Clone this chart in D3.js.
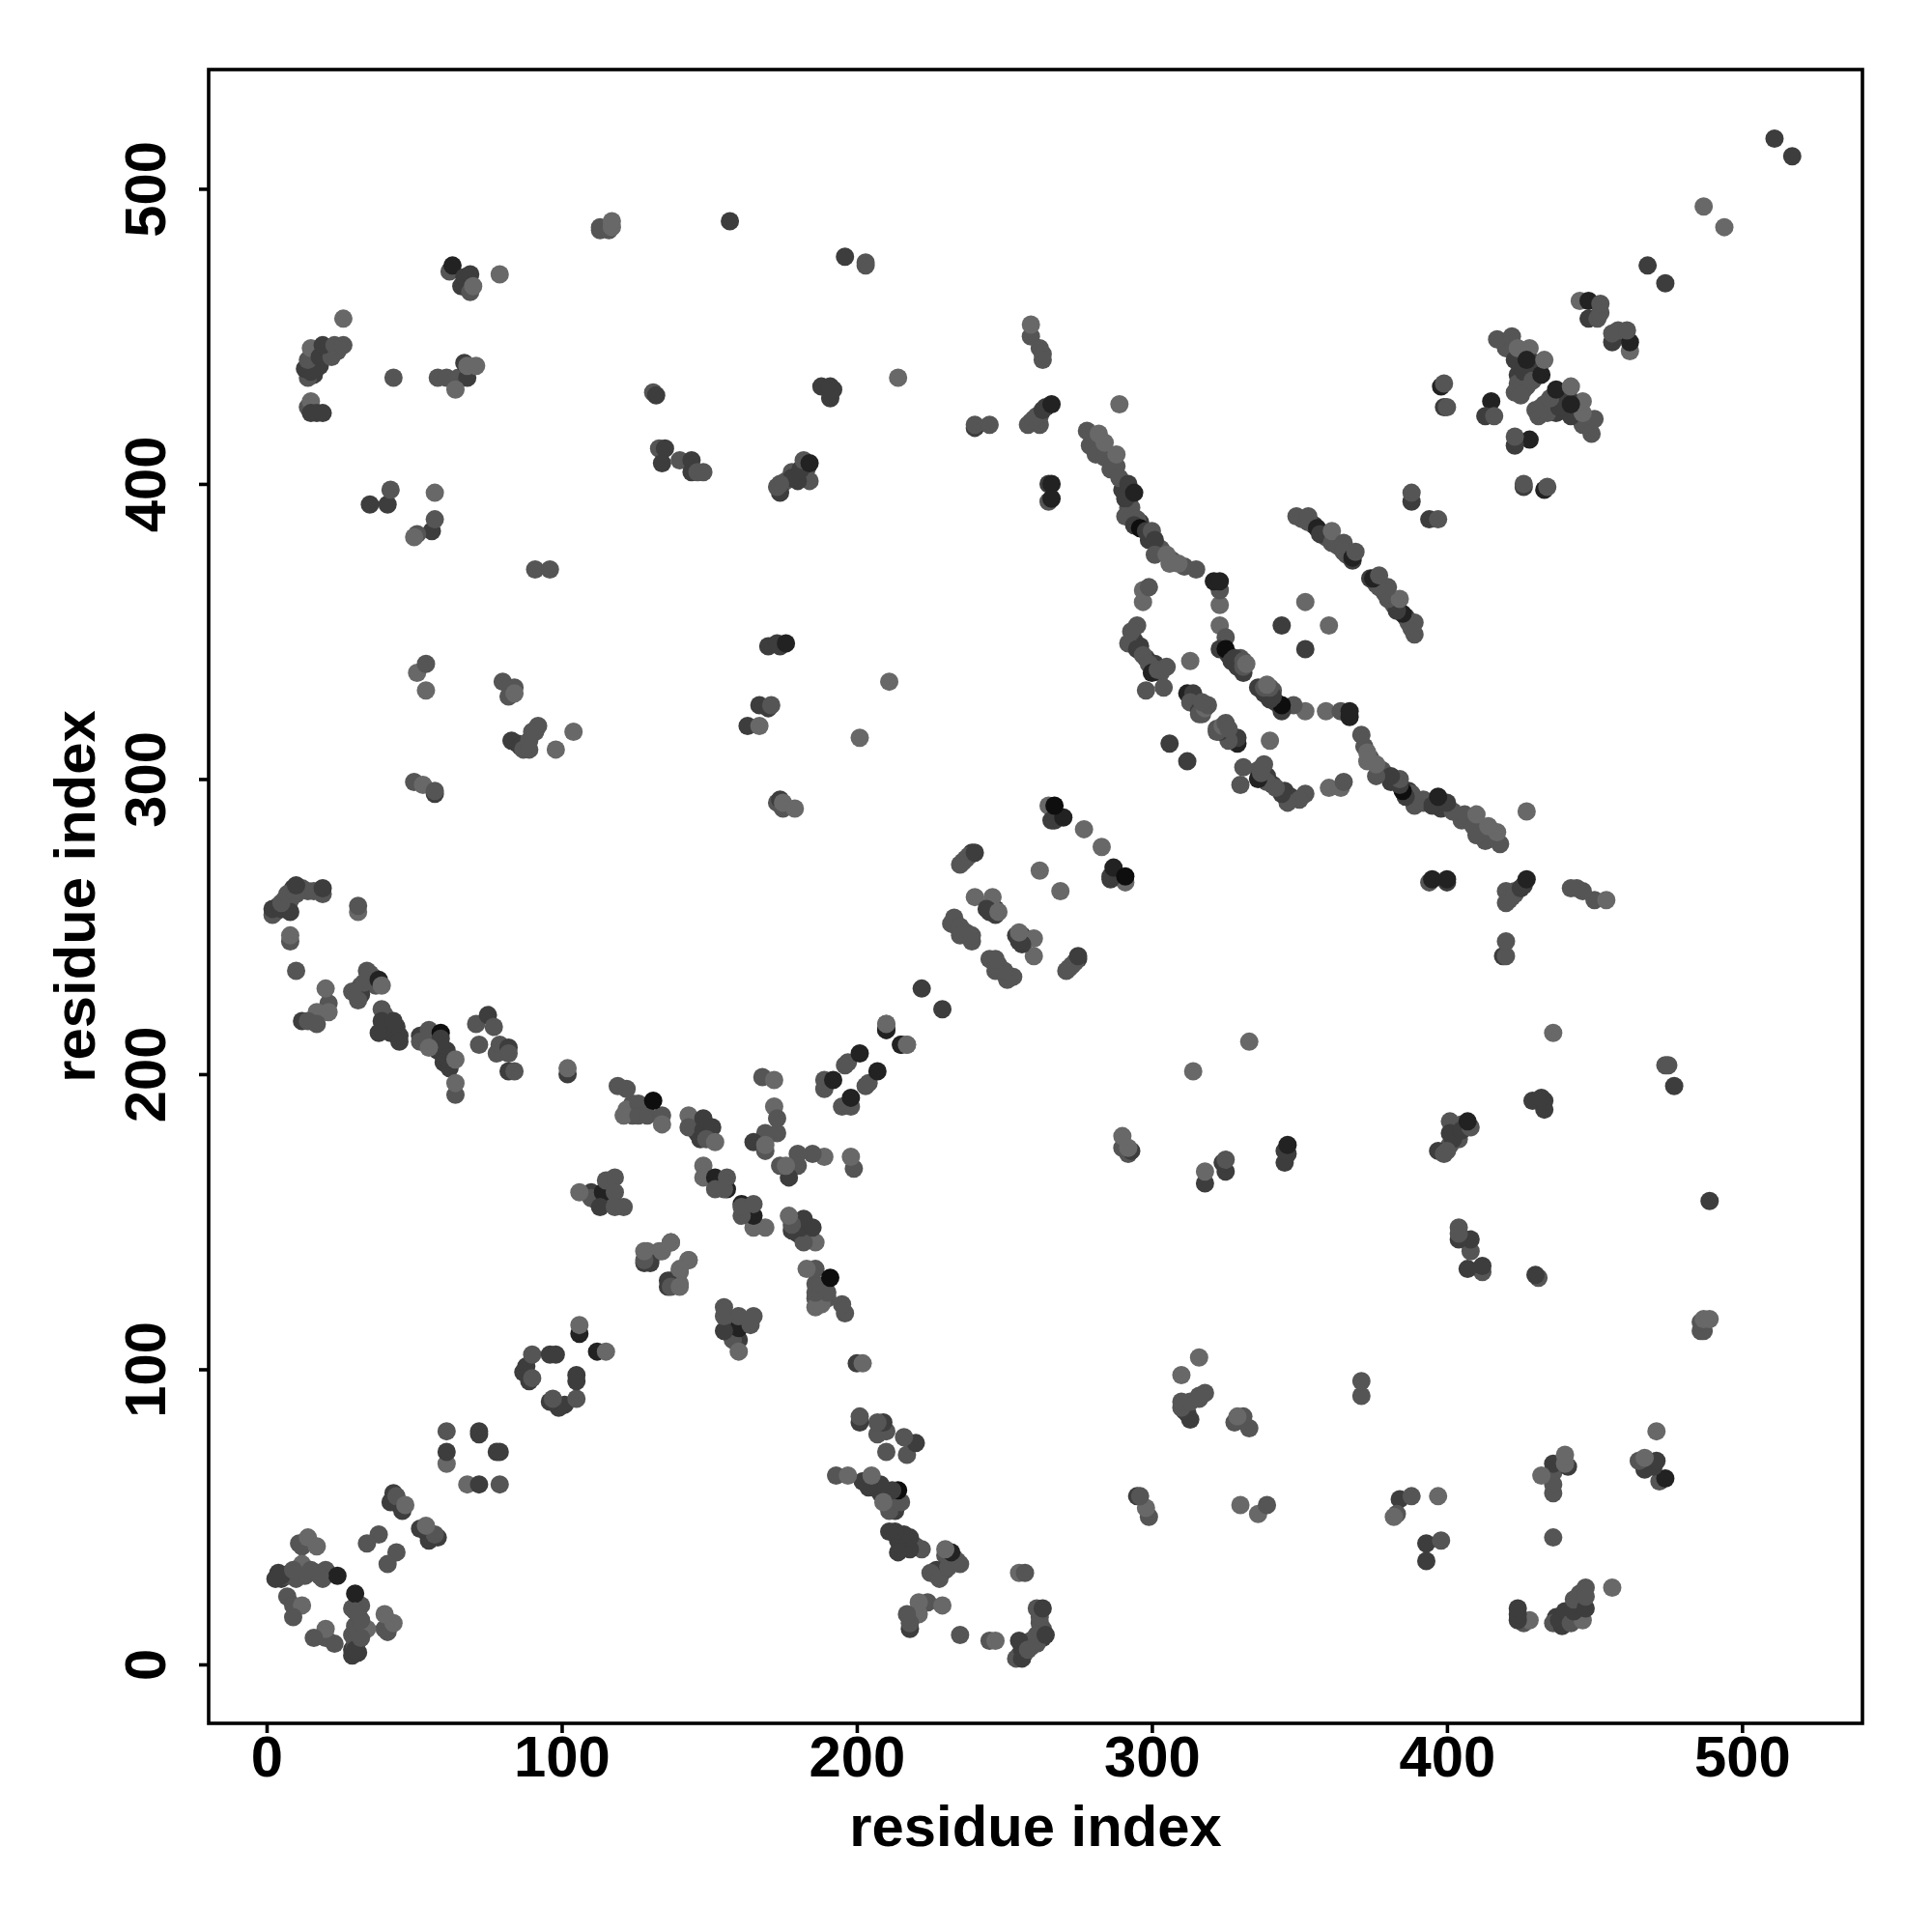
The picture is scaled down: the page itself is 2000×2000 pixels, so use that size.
<!DOCTYPE html>
<html>
<head>
<meta charset="utf-8">
<script src="https://cdn.jsdelivr.net/npm/d3@7/dist/d3.min.js"></script>
<style>
html,body{margin:0;padding:0;background:#fff}
svg{display:block}
text{font-family:"Liberation Sans",Arial,sans-serif;font-weight:bold;fill:#000}
</style>
</head>
<body>
<svg id="chart" width="2000" height="2000"></svg>
<script>
// Contact map: each pair is drawn at (i,j) and at (j,i)
const tickValues = [0,100,200,300,400,500];
const axisTitle = "residue index";
const grayLevels = [14,34,61,85,104];

const residueI = [
280,283,286,288,290,292,293,296,299,303,307,311,
294,296,298,301,303,313,315,317,326,329,330,
16,20,24,17,16,3,4,6,8,9,12,14,
32,36,37,32,41,42,40,54,56,58,60,
420,424,427,424,428,424,427,430,176,178,180,183,
145,146,150,153,155,112,115,124,124,234,237,245,247,
237,239,43,45,7,9,12,13,17,351,355,359,363,366,
259,262,264,85,88,91,
113,113,116,117,117,
62,63,66,67,69,69,70,79,26,
14,13,15,18,14,15,18,22,19,23,26,
14,15,15,17,19,43,
58,61,65,68,64,67,68,71,
131,132,133,135,134,140,144,144,146,148,
41,42,35,57,56,51,50,57,
157,196,203,203,259,259,262,263,263,214,
188,191,191,192,240,240,245,
258,262,260,261,263,266,289,
278,279,281,284,282,284,288,
291,289,292,294,291,295,294,296,298,300,301,301,305,306,309,315,
265,266,265,266,
184,180,178,174,173,174,181,182,184,
468,487,511,
445,448,448,451,452,452,
417,422,423,426,426,423,425,424,428,429,430,427,432,433,
398,399,399,400,415,413,416,388,388,
349,353,353,356,357,361,361,365,365,368,368,369,
323,323,321,323,344,352,
297,297,299,
295,293,292,295,297,299,300,302,305,
298,304,313,312,314,313,316,316,318,319,317,306,
323,325,323,325,327,328,331,331,331,332,
91,96,51,54,54,80,82,84,84,
83,86,87,89,89,90,92,104,98,
50,53,57,57,
2,2,5,8,5,7,10,10,16,19,19,
31,31,8,8,10,
21,20,17,21,12,14,17,
30,31,29,33,34,35,38,39,
39,39,38,43,44,45,45,
52,52,55,59,59,61,60,62,55,64,
64,64,71,75,77,72,78,79,82,82,82,84,
102,102,119,122,122,121,126,126,129,134,134,131,
143,143,147,148,148,151,149,152,148,148,
152,156,152,155,156,
110,110,106,114,115,118,113,118,118,121,
128,130,129,133,137,136,137,140,143,140,
106,106,88,87,89,90,90,96,98,
61,72,72,61,61,
42,43,44,46,47,38,34,
11,12,14,17,12,8,4,5,6,10,15,20,19,24,
7,9,12,9,3,5,18,9,
170,173,174,176,167,170,171,163,167,
211,201,173,174,175,175,179,
265,266,267,270,267,277,262,
235,236,238,240,240,246,244,245,247,248,
233,232,235,235,239,239,222,210,210,
215,217,196,197,201,189,189,192,168,172,
172,173,173,169,165,169,169
];

const residueJ = [
416,412,405,406,398,392,392,387,381,378,374,372,
347,345,341,339,336,328,326,322,342,338,341,
441,445,445,444,437,255,257,259,259,263,263,262,
230,233,230,227,216,214,220,212,211,208,206,
446,443,440,437,437,434,433,438,401,404,403,405,
183,180,180,163,163,157,157,190,186,250,248,257,256,
273,275,56,54,30,30,32,30,31,388,386,382,379,376,
421,423,426,312,312,316,
486,487,486,487,489,
472,474,467,470,471,465,467,471,456,
436,439,438,440,442,446,443,443,447,447,447,
426,428,424,424,424,436,
436,436,436,436,432,441,440,440,
431,430,412,412,407,408,408,404,404,404,
393,398,393,397,384,383,382,388,
489,477,474,475,450,454,446,444,442,436,
433,429,433,432,419,420,420,
420,420,422,423,425,427,427,
418,413,410,409,417,414,410,
395,402,400,397,389,388,386,385,384,384,381,376,376,373,373,371,
400,400,394,395,
401,401,402,397,399,400,405,408,407,
474,494,517,
462,462,456,456,458,461,
449,450,442,438,432,431,430,446,446,435,441,442,437,442,
433,434,426,426,428,423,423,394,397,
389,387,389,385,383,380,384,380,377,374,375,377,
359,364,367,367,352,360,
360,364,365,
352,350,346,344,342,339,336,337,338,
330,331,340,329,329,326,323,322,324,325,326,312,
352,348,344,344,340,341,340,336,338,339,
371,371,336,339,330,333,328,331,329,
313,311,310,310,313,316,318,316,310,
299,298,295,296,
254,256,256,255,258,261,261,264,262,261,263,
255,257,245,247,235,
224,229,221,221,218,218,217,
228,225,228,231,235,234,232,230,
222,218,214,218,216,213,211,
213,211,215,214,212,208,204,202,209,205,
193,197,217,220,216,210,207,210,209,207,201,201,
200,202,196,195,188,186,190,186,186,186,183,191,
186,182,178,181,185,182,178,177,169,165,
165,161,161,161,165,
160,158,160,160,164,165,155,160,155,155,
136,137,140,140,143,130,128,128,137,134,
112,115,101,99,96,97,105,105,105,
79,78,79,68,72,
55,58,57,52,54,44,41,
41,40,43,40,34,31,31,29,30,29,32,32,29,30,
23,20,20,16,29,30,30,32,
345,346,345,346,325,324,325,318,318,
333,314,292,293,290,292,290,
291,286,286,287,291,283,269,
271,272,274,275,260,260,256,255,254,255,
253,251,250,247,245,247,229,215,217,
210,210,203,204,207,195,198,198,199,198,
189,185,180,180,177,174,176
];

const shadeIndex = [
3,3,3,3,2,3,3,2,2,3,3,3,
2,2,2,2,3,2,3,3,2,2,3,
2,3,3,2,2,3,3,3,3,2,3,3,
3,3,3,2,2,2,3,3,3,2,2,
3,3,2,2,2,3,3,2,3,3,2,3,
3,2,2,2,3,3,3,3,3,3,3,3,2,
3,2,3,3,3,3,3,3,3,3,2,3,3,3,
3,3,2,2,3,3,
3,3,3,4,4,
3,1,2,2,2,3,4,4,4,
3,2,2,2,3,4,2,3,2,3,3,
3,4,2,2,2,3,
3,3,3,2,4,2,4,4,
3,2,3,2,2,3,2,2,3,3,
2,3,2,4,2,3,4,3,
2,2,3,3,3,4,3,3,3,4,
2,2,2,2,2,3,3,
3,3,3,3,2,1,4,
3,3,3,3,4,4,4,
2,3,2,1,3,3,2,0,2,3,2,3,4,4,4,3,
2,1,3,1,
3,2,2,2,3,3,2,3,1,
2,4,2,
4,1,2,3,3,3,
3,3,2,2,3,3,3,4,4,3,2,1,1,4,
1,3,2,3,1,2,3,2,3,
3,3,3,1,2,3,4,3,3,2,1,3,
4,3,1,1,2,4,
4,4,3,
3,3,3,2,3,3,1,3,3,
3,3,4,1,2,3,2,3,4,3,3,2,
4,3,2,0,2,2,3,2,3,4,
3,3,4,3,4,3,3,3,4,
2,2,3,3,3,3,3,4,4,
3,4,2,3,
3,2,2,2,3,3,3,2,3,3,2,
4,3,3,4,3,
3,4,4,4,2,3,3,
2,3,3,3,3,3,1,4,
3,2,2,2,2,2,2,
2,3,3,0,2,2,2,2,4,4,
3,4,3,2,3,3,3,3,2,3,2,3,
2,4,3,3,4,4,3,3,3,3,4,0,
4,3,2,2,2,2,3,4,4,4,
1,1,3,3,3,
2,3,4,1,3,3,2,3,3,3,
2,2,4,4,3,2,3,4,4,4,
1,4,2,2,2,3,3,2,2,
3,2,2,4,2,
2,2,3,2,4,3,3,
3,3,4,4,4,3,2,2,3,3,3,3,3,1,
3,3,4,3,2,2,3,3,
2,2,2,1,2,2,3,2,4,
4,4,3,2,3,4,4,
4,2,2,1,0,4,4,
3,3,3,2,4,4,2,2,2,4,
3,3,3,3,3,3,2,2,4,
1,4,3,3,1,3,3,1,3,4,
4,3,3,3,2,3,4
];

const svg = d3.select("#chart");
const panel = {left:216, right:1928, top:72, bottom:1784};
const x = d3.scaleLinear().domain([-19.64,540.8]).range([panel.left,panel.right]);
const y = d3.scaleLinear().domain([-19.97,540.4]).range([panel.bottom,panel.top]);
const radius = 9.5;

const points = residueI.flatMap((a,k) => {
  const v = grayLevels[shadeIndex[k]];
  const c = `rgb(${v},${v},${v})`;
  return [{a:a,b:residueJ[k],c:c},{a:residueJ[k],b:a,c:c}];
});

svg.append("rect").attr("width",2000).attr("height",2000).attr("fill","#fff");

svg.append("g").selectAll("circle").data(points).join("circle")
  .attr("cx",d=>x(d.a)).attr("cy",d=>y(d.b)).attr("r",radius).attr("fill",d=>d.c);

const fontSize = 59.8;
const xAxis = svg.append("g").attr("transform",`translate(0,${panel.bottom})`)
  .call(d3.axisBottom(x).tickValues(tickValues).tickFormat(d3.format("d")).tickSize(10).tickPadding(3));
xAxis.select(".domain").remove();
xAxis.selectAll("line").attr("stroke","#000").attr("stroke-width",3.6);
xAxis.selectAll("text").attr("font-size",fontSize).style("font-family",'"Liberation Sans"').style("font-weight","bold");

const yAxis = svg.append("g").attr("transform",`translate(${panel.left},0)`)
  .call(d3.axisLeft(y).tickValues(tickValues).tickFormat(d3.format("d")).tickSize(10).tickPadding(6));
yAxis.select(".domain").remove();
yAxis.selectAll("line").attr("stroke","#000").attr("stroke-width",3.6);
yAxis.selectAll("text")
  .attr("font-size",fontSize).style("font-family",'"Liberation Sans"').style("font-weight","bold")
  .attr("x",null).attr("y",null).attr("dy",null)
  .attr("text-anchor","middle")
  .attr("transform","translate(-45,0) rotate(-90)");

svg.append("rect")
  .attr("x",panel.left).attr("y",panel.top)
  .attr("width",panel.right-panel.left).attr("height",panel.bottom-panel.top)
  .attr("fill","none").attr("stroke","#000").attr("stroke-width",3.6);

svg.append("text").attr("x",(panel.left+panel.right)/2).attr("y",1911)
  .attr("text-anchor","middle").attr("font-size",fontSize).text(axisTitle);
svg.append("text").attr("transform",`translate(98,${(panel.top+panel.bottom)/2}) rotate(-90)`)
  .attr("text-anchor","middle").attr("font-size",fontSize).text(axisTitle);
</script>
</body>
</html>
